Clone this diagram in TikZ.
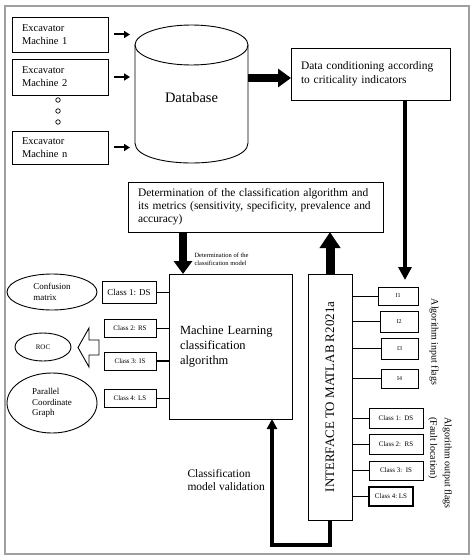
\documentclass[tikz,border=0pt]{standalone}
\usepackage{fontspec}
\setmainfont{Liberation Serif}
\usetikzlibrary{arrows.meta,shapes.geometric}
\newcommand\myfs[2]{\fontsize{#1}{#2}\selectfont}
\begin{document}
\begin{tikzpicture}[x=1bp,y=-1bp,
  bx/.style={draw, line width=0.9bp, inner sep=0pt, outer sep=0pt},
  lbox/.style={bx, align=left, inner xsep=#1},
  sbox/.style={bx, font=\myfs{7}{8}},
  ell/.style={draw, ellipse, line width=0.9bp, inner sep=0pt, align=left},
  dotc/.style={draw, circle, minimum size=4.5bp, inner sep=0pt, line width=0.7bp},
  sarr/.style={line width=2bp, -{Triangle[length=6bp,width=7bp]}},
  thin/.style={line width=0.8bp},
  thk/.style={line width=3.5bp, -{Triangle[length=13bp,width=13bp]}},
  big/.style={line width=8bp, -{Triangle[length=13bp,width=18bp]}},
  fb/.style={line width=3.5bp, -{Triangle[length=10bp,width=10bp]}}
]
\useasboundingbox (0,0) rectangle (474,558);
\draw[gray!75, line width=1.1bp] (5,6) rectangle (469,554);

% excavator machines
\node[lbox=10bp, minimum width=96bp, minimum height=35bp, text width=76bp, font=\myfs{10.5}{13}] (ex1) at (60,34.5) {Excavator\\Machine 1};
\node[lbox=10bp, minimum width=96bp, minimum height=36bp, text width=76bp, font=\myfs{10.5}{13}] (ex2) at (60,77) {Excavator\\Machine 2};
\node[lbox=10bp, minimum width=96bp, minimum height=33bp, text width=76bp, font=\myfs{10.5}{13}] (exn) at (60,147.5) {Excavator\\Machine n};
\node[dotc] (d1) at (58,100) {};
\node[dotc] (d2) at (58,111) {};
\node[dotc] (d3) at (58,122) {};

% database cylinder
\draw[line width=0.9bp] (135,45) -- (135,143) .. controls (135,169.67) and (248,169.67) .. (248,143) -- (248,45);
\draw[line width=0.9bp] (191.5,45) ellipse[x radius=56.5, y radius=20];
\node[font=\myfs{14.5}{16}] (db) at (191.5,98) {Database};
\coordinate (dbw) at (135,100);
\coordinate (dbe) at (248,78);

\draw[sarr, shorten <=6bp, shorten >=5bp] (ex1.east) -- (ex1.east -| dbw);
\draw[sarr, shorten <=6bp, shorten >=5bp] (ex2.east) -- (ex2.east -| dbw);
\draw[sarr, shorten <=6bp, shorten >=5bp] (exn.east) -- (exn.east -| dbw);

% data conditioning
\node[lbox=10bp, minimum width=159bp, minimum height=52bp, text width=139bp, font=\myfs{11.5}{14}] (dc) at (370.5,74) {Data conditioning according\\to criticality indicators};
\draw[big] (dbe) -- (dbe -| dc.west);

% determination
\node[lbox=10bp, minimum width=255bp, minimum height=50bp, text width=235bp, font=\myfs{11.5}{13}] (det) at (255.5,207) {Determination of the classification algorithm and\\its metrics (sensitivity, specificity, prevalence and\\accuracy)};

% ML box
\node[lbox=11bp, minimum width=123bp, minimum height=145bp, text width=101bp, font=\myfs{12.5}{15}] (ml) at (230.5,346.5) {Machine Learning\\classification\\algorithm};
\coordinate (mlx) at (183,0);
\draw[big, line width=8bp] (det.south -| mlx) -- (ml.north -| mlx);
\node[anchor=west, align=left, font=\myfs{6.5}{8}] (dlab) at (191,259) {Determination of the\\classification model};

% interface box
\node[bx, minimum width=44bp, minimum height=246bp] (iface) at (330,397) {};
\node[rotate=90, font=\myfs{13}{15}] (ifacet) at (iface.center) {INTERFACE TO MATLAB R2021a};
\draw[big, line width=9bp, -{Triangle[length=16bp,width=20bp]}] (iface.north) -- (iface.north |- det.south);

% input flags
\node[sbox, font=\myfs{6}{7}, minimum width=40bp, minimum height=18bp] (i1) at (398,296) {I1};
\node[sbox, font=\myfs{6}{7}, minimum width=38bp, minimum height=21bp] (i2) at (399,321.5) {I2};
\node[sbox, font=\myfs{6}{7}, minimum width=37bp, minimum height=21bp] (i3) at (399.5,348.5) {I3};
\node[sbox, font=\myfs{6}{7}, minimum width=37bp, minimum height=19bp] (i4) at (399.5,378.5) {I4};
\foreach \n in {i1,i2,i3,i4} \draw[thin] (\n.west -| iface.east) -- (\n.west);
\coordinate (fx) at (405,0);
\draw[thk, shorten >=7bp] (dc.south -| fx) -- (i1.north -| fx);
\node[rotate=-90, font=\myfs{10}{14}] (inlab) at (434,342) {Algorithm input flags};

% output flags
\node[sbox, minimum width=54bp, minimum height=20bp] (o1) at (396,418) {Class 1:\ \ DS};
\node[sbox, minimum width=54bp, minimum height=20bp] (o2) at (396,444) {Class 2:\ \ RS};
\node[sbox, minimum width=54bp, minimum height=19bp] (o3) at (396,470.5) {Class 3:\ \ IS};
\node[sbox, minimum width=44bp, minimum height=19bp, line width=1.2bp] (o4) at (391,496.5) {Class 4:\ LS};
\foreach \n in {o1,o2,o3,o4} \draw[thin] (\n.west -| iface.east) -- (\n.west);
\node[rotate=-90, anchor=west, align=left, font=\myfs{10}{14.5}] (outlab) at (440,414) {Algorithm output flags\\(Fault location)};

% left class boxes
\node[bx, font=\myfs{9}{10}, minimum width=54bp, minimum height=22bp] (c1) at (129,292) {Class 1: DS};
\node[sbox, minimum width=52bp, minimum height=18bp] (c2) at (130,328) {Class 2: RS};
\node[sbox, minimum width=52bp, minimum height=18bp] (c3) at (130,361) {Class 3: IS};
\node[sbox, minimum width=52bp, minimum height=18bp] (c4) at (130,398) {Class 4: LS};
\draw[thin] (c1.east) -- (c1.east -| ml.west);
\draw[thin] (c2.east) -- (c2.east -| ml.west);
\draw[line width=2bp] (c3.east) -- (c3.east -| ml.west);
\draw[thin] (c4.east) -- (c4.east -| ml.west);

% ellipses
\node[ell, minimum width=90bp, minimum height=36bp, font=\myfs{9}{11}] (e1) at (52,292) {Confusion\\matrix};
\node[ell, minimum width=56bp, minimum height=28bp, font=\myfs{7}{8}] (e2) at (43,347) {ROC};
\node[ell, minimum width=90bp, minimum height=60bp, font=\myfs{9}{10.5}] (e3) at (52,403) {Parallel\\Coordinate\\Graph};

% hollow arrow
\draw[line width=0.9bp, line join=miter] (78,347.5) -- (89,328) -- (89,340) -- (99,340) -- (99,355) -- (89,355) -- (89,367) -- cycle;

% feedback
\coordinate (fbc) at (272,545);
\draw[fb] (iface.south) |- (fbc) -- (fbc |- ml.south);
\node[anchor=west, align=left, font=\myfs{11.5}{14}] (vlab) at (184,480) {Classification\\model validation};
\end{tikzpicture}
\end{document}
